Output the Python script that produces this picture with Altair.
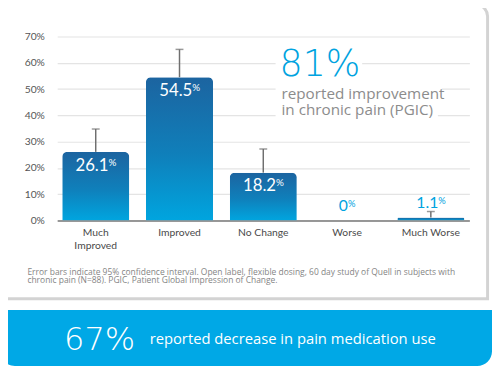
import altair as alt
import pandas as pd

FONT = "Lato"
WIDE = "Open Sans"

categories = ["Much\nImproved", "Improved", "No Change", "Worse", "Much Worse"]
values = [26.1, 54.5, 18.2, 0.0, 1.1]
ci_upper = [34.8, 65.1, 27.2, None, 3.4]
y_ticks = [0, 10, 20, 30, 40, 50, 60, 70]

headline_value = "81%"
headline_lines = ["reported improvement", "in chronic pain (PGIC)"]
banner_value = "67%"
banner_text = "reported decrease in pain medication use"
footnote = [
    "Error bars indicate 95% confidence interval. Open label, flexible dosing, 60 day study of Quell in subjects with",
    "chronic pain (N=88). PGIC, Patient Global Impression of Change.",
]

df = pd.DataFrame({"cat": categories, "value": values, "upper": ci_upper})

one = alt.Data(values=[{}])

W, H = 419, 187
P_IN, P_OUT = 0.2, 0.06
half_band = W / (len(categories) - P_IN + 2 * P_OUT) * (1 - P_IN) / 2

x_scale = alt.Scale(paddingInner=P_IN, paddingOuter=P_OUT)
x_axis = alt.Axis(
    title=None, labelAngle=0, labelExpr="split(datum.label, '\\n')",
    labelFont=FONT, labelFontSize=10.5, labelColor="#4a4a4a",
    labelPadding=7, labelLineHeight=13, ticks=False,
    domainColor="#7a7a7a", domainWidth=1.5, grid=False,
)
y_scale = alt.Scale(domain=[0, 70], nice=False)
y_axis = alt.Axis(
    title=None, values=y_ticks, labelExpr="datum.value + '%'",
    grid=True, gridColor="#e4e4e4", gridWidth=1.2, domain=False,
    ticks=False, labelPadding=13, labelFont=FONT, labelFontSize=10.5,
    labelColor="#555555", labelOverlap=False,
)


def X():
    return alt.X("cat:N", sort=categories, scale=x_scale, axis=x_axis)


def Y(field="value"):
    return alt.Y(f"{field}:Q", scale=y_scale, axis=y_axis)


base = alt.Chart(df)

# decorations
panel = alt.Chart(one).mark_rect(
    fillOpacity=0, stroke="#d3d3d3", strokeWidth=3, cornerRadiusTopRight=12
).encode(x=alt.value(-56.5), x2=alt.value(437.5), y=alt.value(-32.5), y2=alt.value(266.5))

banner = alt.Chart(one).mark_rect(
    fill="#00a8e6", cornerRadiusBottomLeft=15, cornerRadiusBottomRight=15
).encode(x=alt.value(-58), x2=alt.value(442), y=alt.value(278), y2=alt.value(335))

gradient = alt.Gradient(
    gradient="linear",
    stops=[
        alt.GradientStop(color="#1c64a0", offset=0),
        alt.GradientStop(color="#0f80bb", offset=0.55),
        alt.GradientStop(color="#00a5df", offset=1),
    ],
    x1=0, x2=0, y1=0, y2=1,
)

err_rule = base.transform_filter("isValid(datum.upper)").mark_rule(
    color="#6f6f6f", strokeWidth=1.5
).encode(x=X(), y=Y(), y2="upper:Q")
err_cap = base.transform_filter("isValid(datum.upper)").mark_tick(
    color="#6f6f6f", thickness=1.5, size=8
).encode(x=X(), y=Y("upper"))

bars = base.mark_bar(fill=gradient, cornerRadiusTopLeft=5, cornerRadiusTopRight=5).encode(
    x=X(), y=Y()
)


def value_labels(cond, fs, pfs, color, dy, pdy):
    numw = f"(length(replace(datum.num,'.','')) * 0.58 + (indexof(datum.num,'.') >= 0 ? 0.26 : 0)) * {fs}"
    c = base.transform_filter(cond).transform_calculate(
        num="datum.value == 0 ? '0' : format(datum.value, '.1f')"
    ).transform_calculate(
        off=f"{half_band} + ({numw} - 0.8 * {pfs}) / 2"
    )
    num = c.mark_text(font=FONT, fontSize=fs, color=color, align="right",
                      baseline="alphabetic", dy=dy).encode(
        x=X(), y=Y(), xOffset=alt.XOffset("off:Q", scale=None), text="num:N")
    pct = c.mark_text(font=FONT, fontSize=pfs, color=color, align="left",
                      baseline="alphabetic", dy=pdy).encode(
        x=X(), y=Y(), xOffset=alt.XOffset("off:Q", scale=None), text=alt.value("%"))
    return num + pct


inside = value_labels("datum.value >= 5", 17, 10, "white", 19, 14)
outside = value_labels("datum.value < 5", 16, 9.5, "#00a3e0", -10, -14)

# headline annotation with white backing
backs = [
    (222, 310, 10, 46),
    (222, 391, 46, 66),
    (222, 387, 66, 86),
]
back_layers = [
    alt.Chart(one).mark_rect(fill="white").encode(
        x=alt.value(a), x2=alt.value(b), y=alt.value(c), y2=alt.value(d))
    for a, b, c, d in backs
]
head_val = alt.Chart(one).mark_text(
    font="DejaVu Sans", fontSize=37, fontWeight=200, color="#00a3e0", align="left", baseline="alphabetic"
).encode(x=alt.value(226), y=alt.value(40), text=alt.value(headline_value))
head_txt = alt.Chart(one).mark_text(
    font=WIDE, fontSize=15.5, color="#8c8c8c", align="left", baseline="alphabetic", lineHeight=16
).encode(x=alt.value(228), y=alt.value(64), text=alt.value(headline_lines))

foot = alt.Chart(one).mark_text(
    font=WIDE, fontSize=8.6, color="#858585", align="left", baseline="alphabetic", lineHeight=9
).encode(x=alt.value(-30.3), y=alt.value(242), text=alt.value(footnote))

ban_val = alt.Chart(one).mark_text(
    font="DejaVu Sans", fontSize=32.5, fontWeight=200, color="white", align="left", baseline="alphabetic"
).encode(x=alt.value(7), y=alt.value(318.7), text=alt.value(banner_value))
ban_txt = alt.Chart(one).mark_text(
    font=WIDE, fontSize=15, color="white", align="left", baseline="alphabetic"
).encode(x=alt.value(94), y=alt.value(312.7), text=alt.value(banner_text))

chart = alt.layer(
    panel, banner, *back_layers, err_rule, err_cap, bars, inside, outside,
    head_val, head_txt, foot, ban_val, ban_txt,
).properties(
    width=W, height=H, autosize="none",
    padding={"left": 50, "top": 26, "right": 23, "bottom": 148},
    background="white",
).configure_view(stroke=None)

chart.save("out.html", embed_options={"renderer": "svg", "actions": False})
